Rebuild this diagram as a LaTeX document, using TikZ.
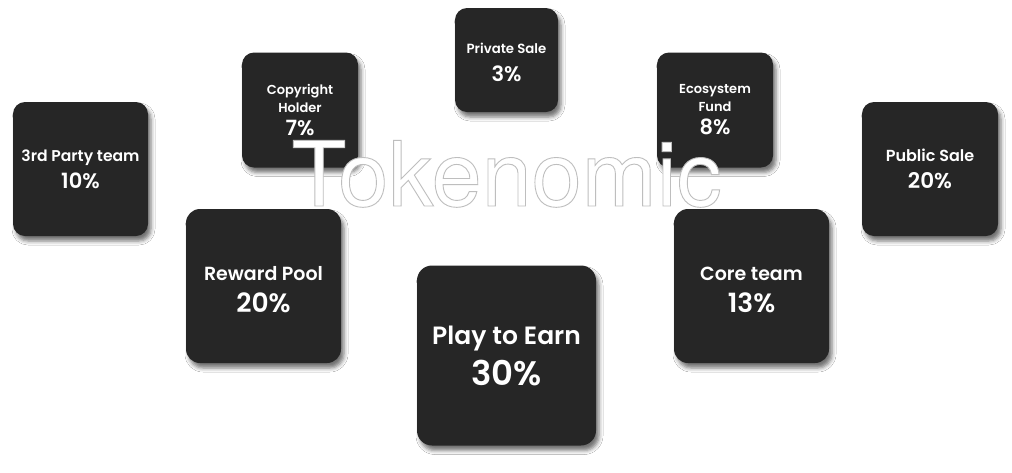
\documentclass[tikz,border=0pt]{standalone}
\usepackage{fontspec}
\setmainfont{Poppins}[BoldFont={* SemiBold}]
\newfontfamily\titlefont{TeX Gyre Heros}
\usetikzlibrary{shadows.blur}
\definecolor{boxc}{RGB}{38,38,38}
\definecolor{outl}{RGB}{190,190,190}
\newcommand\fs[2]{\fontsize{#1}{#2}\selectfont}
\newcommand\outlined[1]{\special{pdf:literal direct 2 Tr 0.9 w 0.745 G}#1\special{pdf:literal direct 0 Tr}}
\tikzset{
  tbox/.style={fill=boxc, text=white, rounded corners=12pt, align=center,
    inner sep=0pt,
    blur shadow={shadow xshift=3pt, shadow yshift=-5pt, shadow blur radius=4pt, shadow opacity=55}},
  ttl/.style={font=\titlefont\fs{90}{90}, inner sep=0pt, anchor=base},
}
\begin{document}
\begin{tikzpicture}[x=1pt,y=-1pt]
\useasboundingbox[fill=white] (0,0) rectangle (1012,472);
\node[tbox, minimum width=135pt, minimum height=134pt, font=\bfseries\fs{10}{27}] (party) at (80.5,169)
  {\fs{15.6}{27}\rule{0pt}{13pt}3rd Party team\\\fs{21}{27}10\%};
\node[tbox, minimum width=116pt, minimum height=115pt, font=\bfseries\fs{10}{18}] (copy) at (300,110)
  {\fs{13}{18}Copyright\\\fs{13}{18}Holder\\[5pt]\fs{21}{18}7\%};
\node[tbox, minimum width=103pt, minimum height=104pt, font=\bfseries\fs{10}{28}] (priv) at (506.5,60)
  {\fs{13.3}{28}\rule{0pt}{16pt}Private Sale\\\fs{21}{28}3\%};
\node[tbox, minimum width=116pt, minimum height=115pt, font=\bfseries\fs{10}{18}] (eco) at (715,110)
  {\fs{13}{18}Ecosystem\\\fs{13}{18}Fund\\[5pt]\fs{21}{18}8\%};
\node[tbox, minimum width=136pt, minimum height=134pt, font=\bfseries\fs{10}{27}] (pub) at (930,169)
  {\fs{16}{27}\rule{0pt}{13pt}Public Sale\\\fs{21.5}{27}20\%};
\node[tbox, rounded corners=14pt, minimum width=155pt, minimum height=154pt, font=\bfseries\fs{10}{32}] (reward) at (263.5,286)
  {\fs{19}{32}\rule{0pt}{22pt}Reward Pool\\\fs{26.5}{32}20\%};
\node[tbox, rounded corners=14pt, minimum width=155pt, minimum height=154pt, font=\bfseries\fs{10}{32}] (core) at (751.5,286)
  {\fs{19}{32}\rule{0pt}{22pt}Core team\\\fs{26.5}{32}13\%};
\node[tbox, rounded corners=15pt, minimum width=179pt, minimum height=180pt, font=\bfseries\fs{10}{41}] (play) at (506.5,355.5)
  {\fs{25}{41}Play to Earn\\\fs{34}{41}30\%};
\node[ttl, text=white] (title) at (506.5,206) {\outlined{Tokenomic}};
\end{tikzpicture}
\end{document}
